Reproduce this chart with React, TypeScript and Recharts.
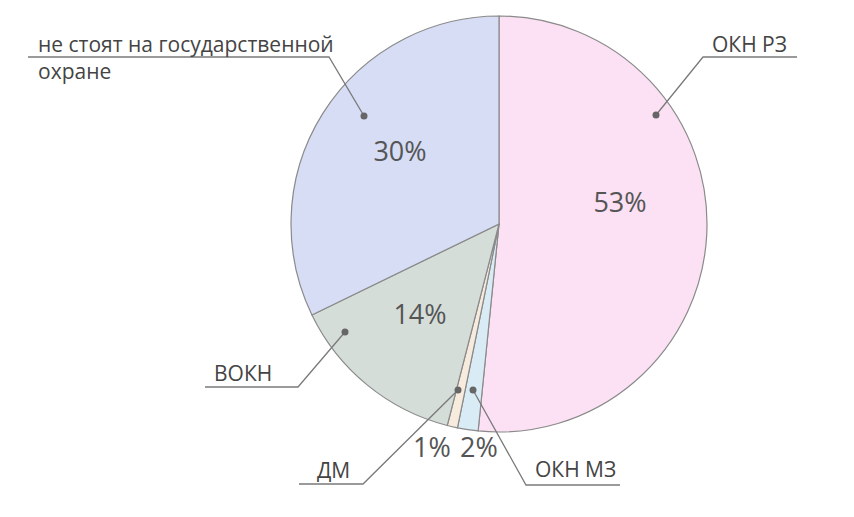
import { Pie, PieChart, Cell } from "recharts";

const categories = ["ОКН РЗ", "ОКН МЗ", "ДМ", "ВОКН", "не стоят на государственной охране"];
const shares = [51.6, 1.6, 0.8, 13.8, 32.2];
const percentLabels = ["53%", "2%", "1%", "14%", "30%"];

const colors = ["#fce0f4", "#d9ecf5", "#f7ebdd", "#d5ddd9", "#d6ddf5"];

// label layout, offsets from the pie centre
const layout = [
  { dot: [157, -109], elbow: [204, -167], end: [298, -167], text: [213, -172], lines: ["ОКН РЗ"], pct: [121, -12] },
  { dot: [-26, 166], elbow: [27, 261], end: [121, 261], text: [36, 253], lines: ["ОКН МЗ"], pct: [-20, 233] },
  { dot: [-41, 166], elbow: [-136, 260], end: [-200, 260], text: [-182, 254], lines: ["ДМ"], pct: [-67, 233] },
  { dot: [-154, 108], elbow: [-201, 163], end: [-294, 163], text: [-285, 157], lines: ["ВОКН"], pct: [-79, 100] },
  { dot: [-135, -108], elbow: [-170, -167], end: [-471, -167], text: [-461, -172], lines: ["не стоят на государственной", "охране"], pct: [-99, -63] },
];

const data = categories.map((name, i) => ({ name, value: shares[i] }));

const font = "'Open Sans', sans-serif";

function renderLabel(props: any) {
  const { cx, cy, index } = props;
  const l = layout[index];
  return (
    <g key={`lbl-${index}`}>
      <polyline
        points={`${cx + l.dot[0]},${cy + l.dot[1]} ${cx + l.elbow[0]},${cy + l.elbow[1]} ${cx + l.end[0]},${cy + l.end[1]}`}
        fill="none"
        stroke="#7a7a7a"
        strokeWidth={1.3}
      />
      <circle cx={cx + l.dot[0]} cy={cy + l.dot[1]} r={3.5} fill="#666" />
      {l.lines.map((t, j) => (
        <text key={j} x={cx + l.text[0]} y={cy + l.text[1] + j * 27} fill="#444" fontSize={21} fontFamily={font}>
          {t}
        </text>
      ))}
      <text x={cx + l.pct[0]} y={cy + l.pct[1]} textAnchor="middle" fill="#555" fontSize={27} fontFamily={font}>
        {percentLabels[index]}
      </text>
    </g>
  );
}

export default function App() {
  return (
    <div style={{ position: "absolute", left: 0, top: 0, background: "#fff" }}>
      <PieChart width={854} height={517} margin={{ top: 0, right: 0, bottom: 0, left: 0 }}>
        <Pie
          data={data}
          dataKey="value"
          cx={499}
          cy={224}
          outerRadius={208}
          startAngle={90}
          endAngle={-270}
          stroke="#8a8a8a"
          strokeWidth={1.2}
          label={renderLabel}
          labelLine={false}
          isAnimationActive={false}
        >
          {data.map((d, i) => (
            <Cell key={d.name} fill={colors[i]} />
          ))}
        </Pie>
      </PieChart>
    </div>
  );
}
